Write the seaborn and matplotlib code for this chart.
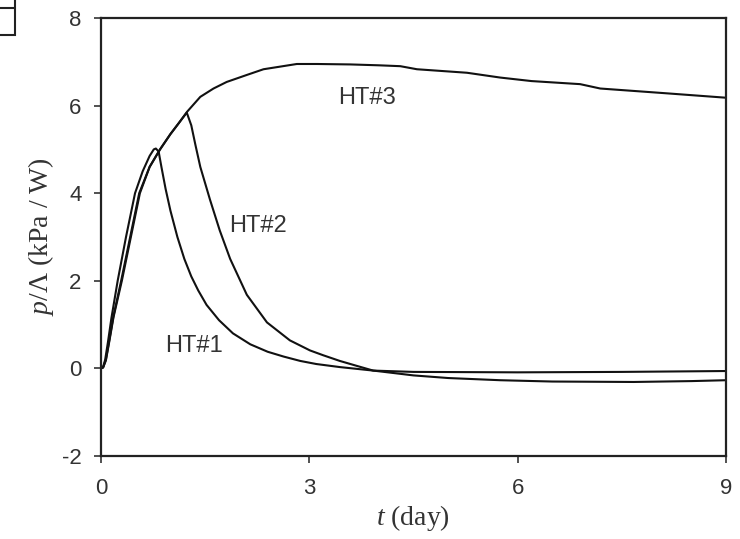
import numpy as np
import pandas as pd
import matplotlib
matplotlib.use('Agg')
import matplotlib.pyplot as plt
import seaborn as sns
from matplotlib.patches import Rectangle
from matplotlib.lines import Line2D

# values (t in days, p/Lambda in kPa/W)
t_ht1 = [0, 0.03, 0.06, 0.1, 0.15, 0.24, 0.36, 0.49, 0.6, 0.7, 0.76, 0.79, 0.83, 0.87,
         0.93, 1.0, 1.1, 1.2, 1.3, 1.4, 1.52, 1.7, 1.9, 2.15, 2.4, 2.63, 2.87, 3.1, 3.44,
         3.92, 4.5, 6.0, 7.5, 9.0]
p_ht1 = [0, 0.03, 0.2, 0.6, 1.15, 2.0, 3.0, 4.0, 4.5, 4.85, 5.0, 5.02, 4.95, 4.6,
         4.1, 3.6, 3.0, 2.5, 2.1, 1.78, 1.45, 1.1, 0.8, 0.55, 0.38, 0.27, 0.17, 0.1, 0.03,
         -0.05, -0.08, -0.09, -0.08, -0.06]

t_ht2 = [0, 0.03, 0.07, 0.12, 0.18, 0.29, 0.42, 0.55, 0.7, 0.85, 1.0, 1.12, 1.235,
         1.3, 1.36, 1.43, 1.57, 1.71, 1.86, 2.1, 2.39, 2.72, 3.01, 3.2, 3.44, 3.7, 3.92,
         4.5, 5.0, 5.75, 6.5, 7.67, 8.5, 9.0]
p_ht2 = [0, 0.02, 0.2, 0.65, 1.2, 2.0, 3.0, 4.0, 4.6, 5.0, 5.35, 5.6, 5.84,
         5.55, 5.1, 4.6, 3.85, 3.15, 2.5, 1.68, 1.05, 0.64, 0.41, 0.3, 0.17, 0.05, -0.05,
         -0.16, -0.22, -0.27, -0.3, -0.31, -0.29, -0.27]

t_ht3 = [0, 0.03, 0.07, 0.12, 0.18, 0.3, 0.43, 0.56, 0.7, 0.85, 1.0, 1.12, 1.24, 1.43,
         1.62, 1.81, 2.1, 2.34, 2.58, 2.82, 3.11, 3.59, 4.0, 4.31, 4.55, 5.27, 5.75, 6.2,
         6.9, 7.19, 8.15, 9.0]
p_ht3 = [0, 0.02, 0.18, 0.62, 1.17, 2.0, 3.0, 4.0, 4.6, 5.0, 5.35, 5.6, 5.86, 6.2,
         6.39, 6.54, 6.7, 6.83, 6.89, 6.95, 6.95, 6.94, 6.92, 6.9, 6.83, 6.75, 6.64, 6.56,
         6.49, 6.39, 6.28, 6.18]

labels = ['HT#1', 'HT#2', 'HT#3']
label_x = [1.34, 2.26, 3.83]
label_y = [0.5, 3.25, 6.17]

df = pd.concat([
    pd.DataFrame({'t': t_ht1, 'p': p_ht1, 'run': 'HT#1'}),
    pd.DataFrame({'t': t_ht2, 'p': p_ht2, 'run': 'HT#2'}),
    pd.DataFrame({'t': t_ht3, 'p': p_ht3, 'run': 'HT#3'}),
])

sns.set_style('ticks')
plt.rcParams['font.family'] = ['Liberation Sans', 'DejaVu Sans']
plt.rcParams['axes.unicode_minus'] = False
plt.rcParams['mathtext.fontset'] = 'custom'
plt.rcParams['mathtext.rm'] = 'Liberation Serif'
plt.rcParams['mathtext.it'] = 'Liberation Serif:italic'

fig = plt.figure(figsize=(7.4, 5.39), dpi=100)
ax = fig.add_axes([0.1365, 0.154, 0.8445, 0.8126])

for name in labels:
    sub = df[df['run'] == name]
    sns.lineplot(data=sub, x='t', y='p', sort=False, estimator=None,
                 color='#111111', linewidth=1.5, ax=ax)

for lab, lx, ly in zip(labels, label_x, label_y):
    ax.text(lx, ly, lab, fontsize=17, ha='center', va='center', color='#333333')

ax.set_xlim(0, 9)
ax.set_ylim(-2, 8)
ax.set_xticks([0, 3, 6, 9])
ax.set_yticks([-2, 0, 2, 4, 6, 8])
ax.tick_params(axis='both', labelsize=16, length=5, width=1.2, direction='out',
               color='#333333', labelcolor='#333333')
ax.tick_params(axis='x', pad=11)
ax.tick_params(axis='y', pad=9)
for s in ax.spines.values():
    s.set_linewidth(1.6)
    s.set_color('#222222')

ax.set_xlabel(r'$t$ (day)', fontsize=20, family='Liberation Serif', labelpad=3,
              color='#333333')
ax.set_ylabel(r'$p$/Λ (kPa / W)', fontsize=20, family='Liberation Serif', labelpad=4,
              color='#333333')

# small cropped box at top-left corner of the original figure
fig.add_artist(Rectangle((-0.01, 1 - 35 / 539), 0.01 + 15 / 740, 40 / 539,
                         transform=fig.transFigure, fill=False, lw=1.5, ec='#222222'))
fig.add_artist(Line2D([0, 15 / 740], [1 - 8 / 539, 1 - 8 / 539],
                      transform=fig.transFigure, lw=1.5, color='#222222'))

fig.savefig('out.png', dpi=100)
